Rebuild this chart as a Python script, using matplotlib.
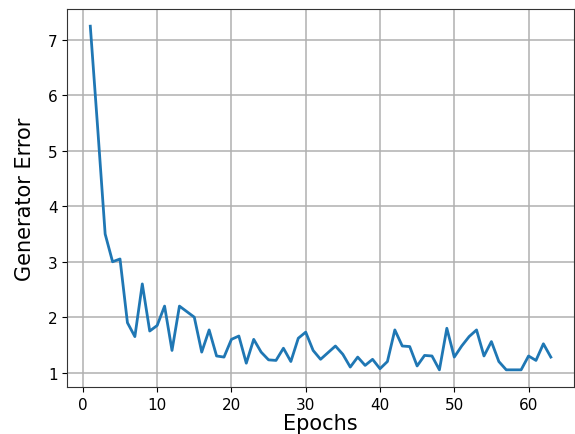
import matplotlib
matplotlib.use("Agg")
import matplotlib.pyplot as plt

epochs = list(range(1, 64))
gen_error = [7.25, 5.4, 3.5, 3.0, 3.05, 1.9, 1.65, 2.6, 1.75, 1.85,
             2.2, 1.4, 2.2, 2.1, 2.0, 1.37, 1.77, 1.3, 1.28, 1.6,
             1.66, 1.17, 1.6, 1.37, 1.23, 1.22, 1.44, 1.2, 1.62, 1.73,
             1.4, 1.24, 1.36, 1.48, 1.33, 1.1, 1.28, 1.13, 1.24, 1.07,
             1.2, 1.77, 1.48, 1.47, 1.12, 1.31, 1.3, 1.05, 1.8, 1.28,
             1.48, 1.65, 1.77, 1.3, 1.56, 1.2, 1.05, 1.05, 1.05, 1.3,
             1.22, 1.52, 1.28]

fig, ax = plt.subplots(figsize=(5.75, 4.35), dpi=100)
ax.plot(epochs, gen_error, color='#1f77b4', linewidth=2)
ax.set_xlabel("Epochs", fontsize=15, labelpad=1)
ax.set_ylabel("Generator Error", fontsize=15, labelpad=9)
ax.grid(True, color='#b0b0b0', linewidth=1.1)
ax.set_xticks([0, 10, 20, 30, 40, 50, 60])
ax.set_yticks([1, 2, 3, 4, 5, 6, 7])
ax.tick_params(labelsize=11)
for s in ax.spines.values():
    s.set_color('#333333')

fig.subplots_adjust(left=0.117, right=0.998, top=0.977, bottom=0.108)
fig.savefig("out.png")
